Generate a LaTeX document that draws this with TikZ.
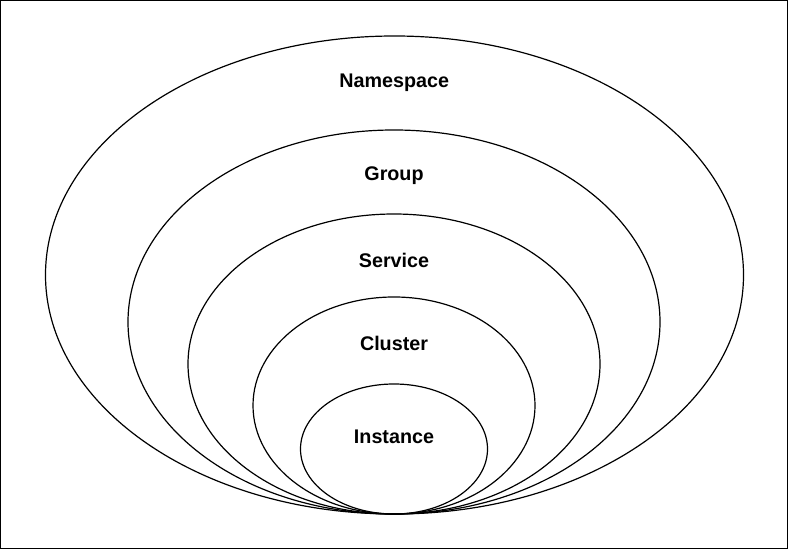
\documentclass[tikz,border=0pt]{standalone}
\usepackage{fontspec}
\setmainfont{Liberation Sans}
\begin{document}
\begin{tikzpicture}[x=0.75pt,y=0.75pt,
  ring/.style={draw=black,line width=0.9pt},
  lbl/.style={anchor=base,inner sep=0pt,font=\bfseries\fontsize{14.8pt}{17pt}\selectfont}]
\useasboundingbox (0,0) rectangle (788,549);
\draw[line width=1.2pt] (0.6,0.6) rectangle (787.4,548.4);
% ellipses (y = 549 - pixel y)
\draw[ring] (394.5,274) ellipse [x radius=349, y radius=239];
\draw[ring] (394,227) ellipse [x radius=266, y radius=192];
\draw[ring] (394,185) ellipse [x radius=206, y radius=150];
\draw[ring] (394,143.5) ellipse [x radius=141, y radius=108.5];
\draw[ring] (394,100) ellipse [x radius=93.5, y radius=65];
\node[lbl] (ns) at (394.3,461.7) {Namespace};
\node[lbl] (gr) at (394,368.3) {Group};
\node[lbl] (sv) at (394,281) {Service};
\node[lbl] (cl) at (394,198) {Cluster};
\node[lbl] (in) at (394,105) {Instance};
\end{tikzpicture}
\end{document}
